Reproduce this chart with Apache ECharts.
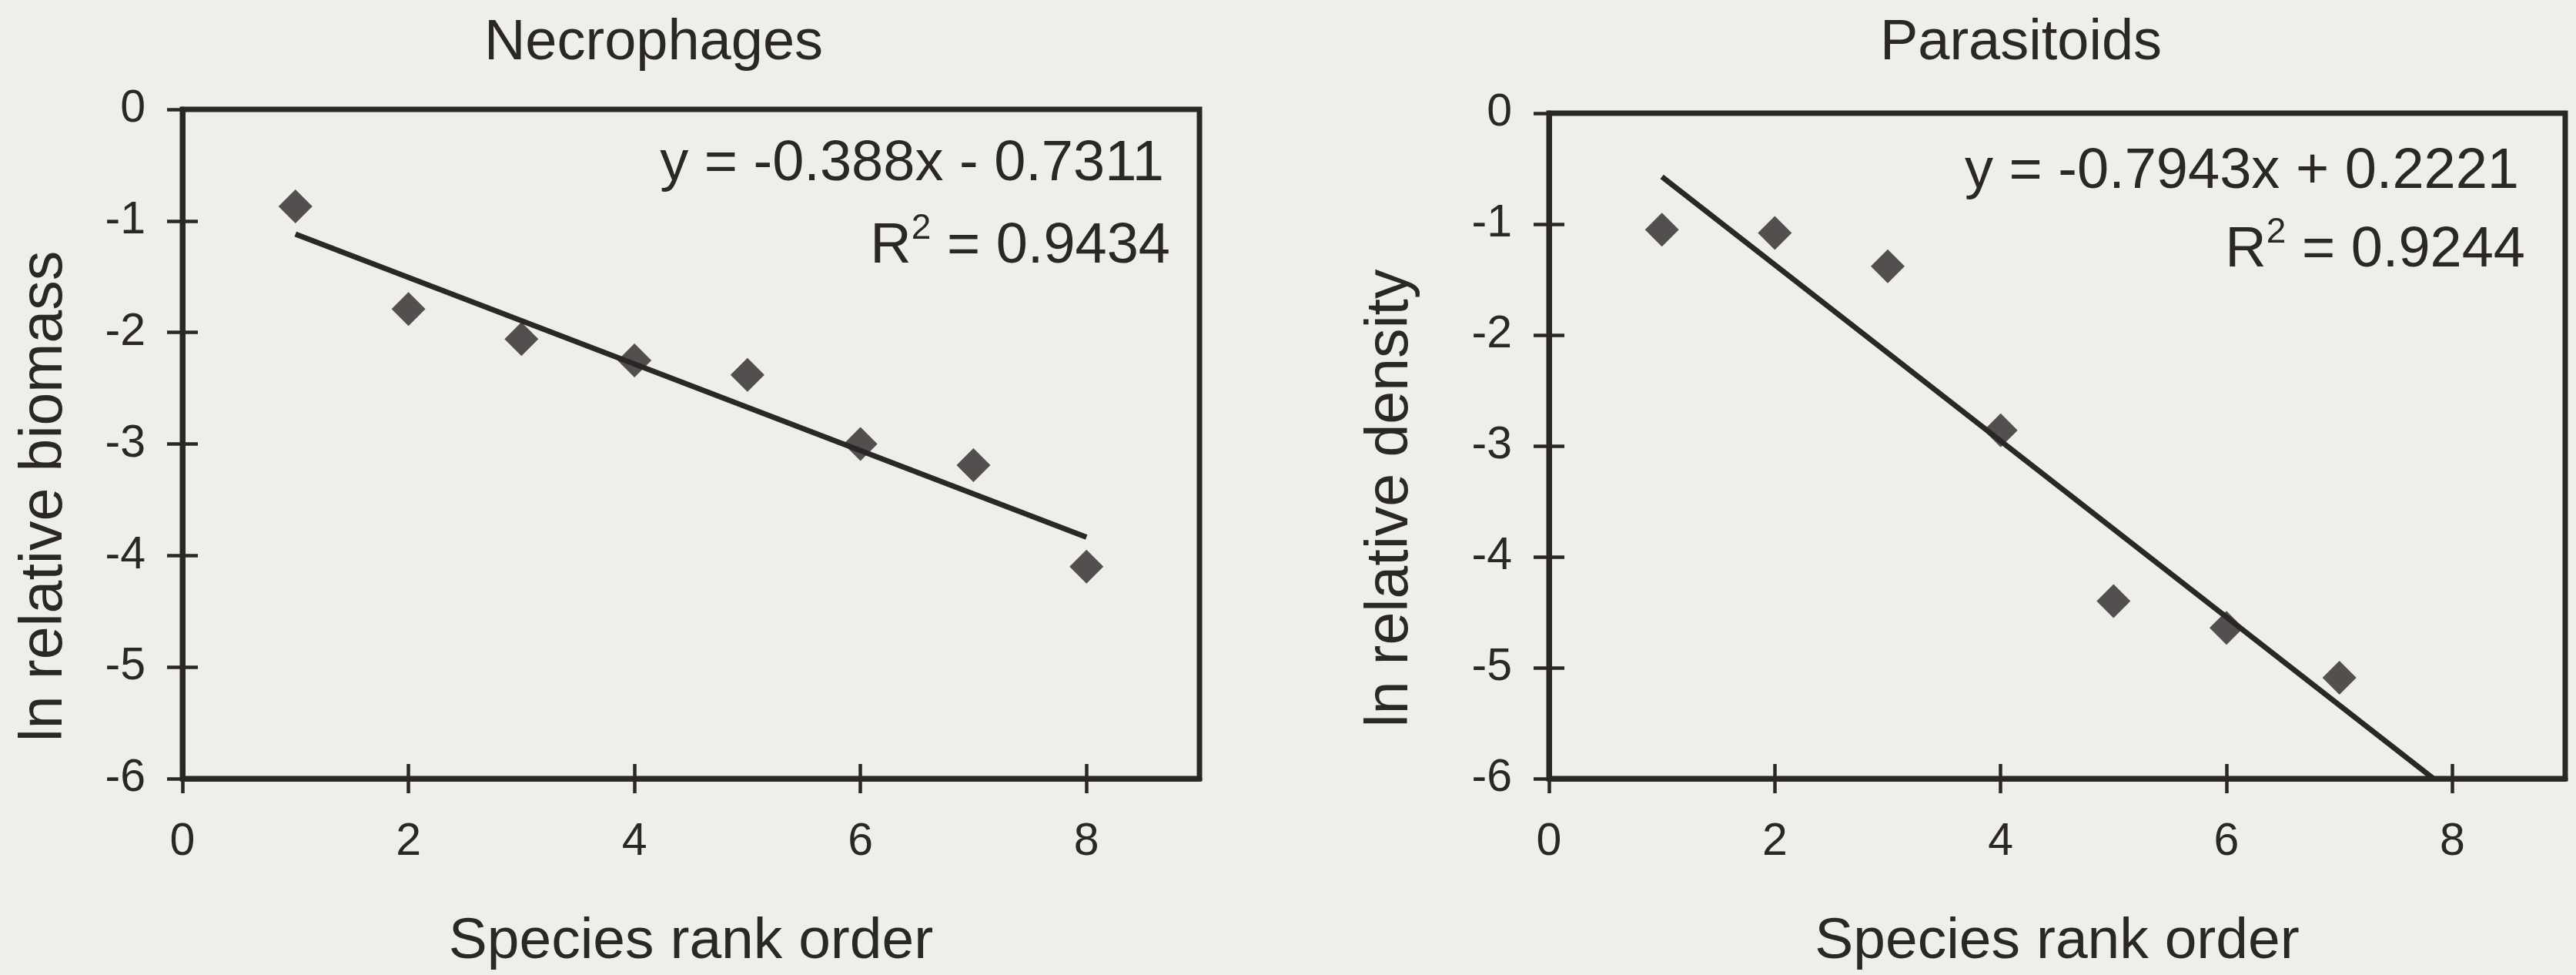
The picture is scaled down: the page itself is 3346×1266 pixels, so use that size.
<!DOCTYPE html>
<html>
<head>
<meta charset="utf-8">
<script src="https://cdn.jsdelivr.net/npm/echarts@6/dist/echarts.min.js"></script>
<style>
html,body{margin:0;padding:0;background:#eeeeea;overflow:hidden;}
#c{width:3346px;height:1266px;}
</style>
</head>
<body>
<div id="c"></div>
<script>
// ---- data ----
const panelTitles = ['Necrophages', 'Parasitoids'];
const yAxisNames = ['ln relative biomass', 'ln relative density'];
const xAxisName = 'Species rank order';
const necroRank = [1, 2, 3, 4, 5, 6, 7, 8];
const necroValues = [-0.87, -1.79, -2.06, -2.25, -2.38, -3.00, -3.19, -4.10];
const paraRank = [1, 2, 3, 4, 5, 6, 7];
const paraValues = [-1.05, -1.08, -1.38, -2.86, -4.40, -4.64, -5.09];
const slopes = [-0.388, -0.7943];
const intercepts = [-0.7311, 0.2221];
const rSquared = ['0.9434', '0.9244'];
const trendRange = [1, 8];
const xTickValues = [0, 2, 4, 6, 8];
const yTickMin = -6, yTickMax = 0;

// ---- style ----
const ink = '#2b2727';
const FF = '"Liberation Sans", Arial, sans-serif';

const grids = [
  {left: 237, right: 1788, top: 142, bottom: 251},
  {left: 2012, right: 14, top: 147, bottom: 250}
];

function eqText(i) {
  const s = slopes[i], b = intercepts[i];
  return 'y = ' + s + 'x ' + (b < 0 ? '- ' : '+ ') + Math.abs(b);
}

const xAxes = [], yAxes = [], series = [];
const yNameGaps = [140, 167];
[0, 1].forEach(function (g) {
  xAxes.push({
    gridIndex: g, type: 'value', min: 0, max: 9, interval: 2, position: 'bottom',
    axisLine: {show: true, onZero: false, lineStyle: {color: ink, width: 7}},
    axisTick: {show: true, length: 19, customValues: xTickValues, lineStyle: {color: ink, width: 4.5}},
    axisLabel: {customValues: xTickValues, margin: 53, fontSize: 59, fontFamily: FF, color: ink},
    splitLine: {show: false},
    name: xAxisName, nameLocation: 'middle', nameGap: 175,
    nameTextStyle: {fontSize: 75, fontFamily: FF, color: ink}
  });
  xAxes.push({
    gridIndex: g, type: 'value', min: 0, max: 9, interval: 2, position: 'bottom',
    axisLine: {show: false, onZero: false},
    axisTick: {show: true, inside: true, length: 19, customValues: xTickValues, lineStyle: {color: ink, width: 4.5}},
    axisLabel: {show: false}, splitLine: {show: false}
  });
  yAxes.push({
    gridIndex: g, type: 'value', min: yTickMin, max: yTickMax, interval: 1, position: 'left',
    axisLine: {show: true, onZero: false, lineStyle: {color: ink, width: 7}},
    axisTick: {show: true, length: 20, lineStyle: {color: ink, width: 4.5}},
    axisLabel: {margin: 48, fontSize: 59, fontFamily: FF, color: ink},
    splitLine: {show: false},
    name: yAxisNames[g], nameLocation: 'middle', nameGap: yNameGaps[g],
    nameTextStyle: {fontSize: 77, fontFamily: FF, color: ink, padding: [0, 136, 0, 0]}
  });
  yAxes.push({
    gridIndex: g, type: 'value', min: yTickMin, max: yTickMax, interval: 1, position: 'left',
    axisLine: {show: false, onZero: false},
    axisTick: {show: true, inside: true, length: 20, lineStyle: {color: ink, width: 4.5}},
    axisLabel: {show: false}, splitLine: {show: false}
  });
});

const ranks = [necroRank, paraRank];
const vals = [necroValues, paraValues];
[0, 1].forEach(function (g) {
  series.push({
    type: 'line', xAxisIndex: g * 2, yAxisIndex: g * 2, clip: true, silent: true,
    symbol: 'none', showSymbol: false,
    lineStyle: {color: ink, width: 7},
    data: trendRange.map(function (x) { return [x, slopes[g] * x + intercepts[g]]; }),
    z: 2
  });
  series.push({
    type: 'scatter', xAxisIndex: g * 2, yAxisIndex: g * 2, symbol: 'diamond', symbolSize: 44,
    itemStyle: {color: ink}, silent: true,
    data: ranks[g].map(function (x, i) { return [x, vals[g][i]]; }),
    z: 3
  });
});

const titleX = [849, 2625];
const eqRight = [1512, 3272];
const eqY1 = [214, 224];
const eqY2 = [321, 326];
const graphic = [];
[0, 1].forEach(function (g) {
  graphic.push({
    type: 'text', x: titleX[g], y: 57, silent: true,
    style: {text: panelTitles[g], fontSize: 74, fontFamily: FF, fill: ink, align: 'center', verticalAlign: 'middle'}
  });
  graphic.push({
    type: 'text', x: eqRight[g], y: eqY1[g], silent: true,
    style: {text: eqText(g), fontSize: 74, fontFamily: FF, fill: ink, align: 'right', verticalAlign: 'middle'}
  });
  graphic.push({
    type: 'text', x: eqRight[g] + 8, y: eqY2[g], silent: true,
    style: {
      text: '{r|R}{s|2}{r| = ' + rSquared[g] + '}', align: 'right', verticalAlign: 'middle', fill: ink,
      rich: {
        r: {fontSize: 74, fontFamily: FF, fill: ink, lineHeight: 94},
        s: {fontSize: 46, fontFamily: FF, fill: ink, lineHeight: 46, verticalAlign: 'top'}
      }
    }
  });
});

const chart = echarts.init(document.getElementById('c'));
chart.setOption({
  backgroundColor: '#eeeeea',
  animation: false,
  grid: grids.map(function (gr) {
    return Object.assign({show: true, borderWidth: 7, borderColor: ink, backgroundColor: 'transparent'}, gr);
  }),
  xAxis: xAxes,
  yAxis: yAxes,
  series: series,
  graphic: graphic
});
</script>
</body>
</html>
